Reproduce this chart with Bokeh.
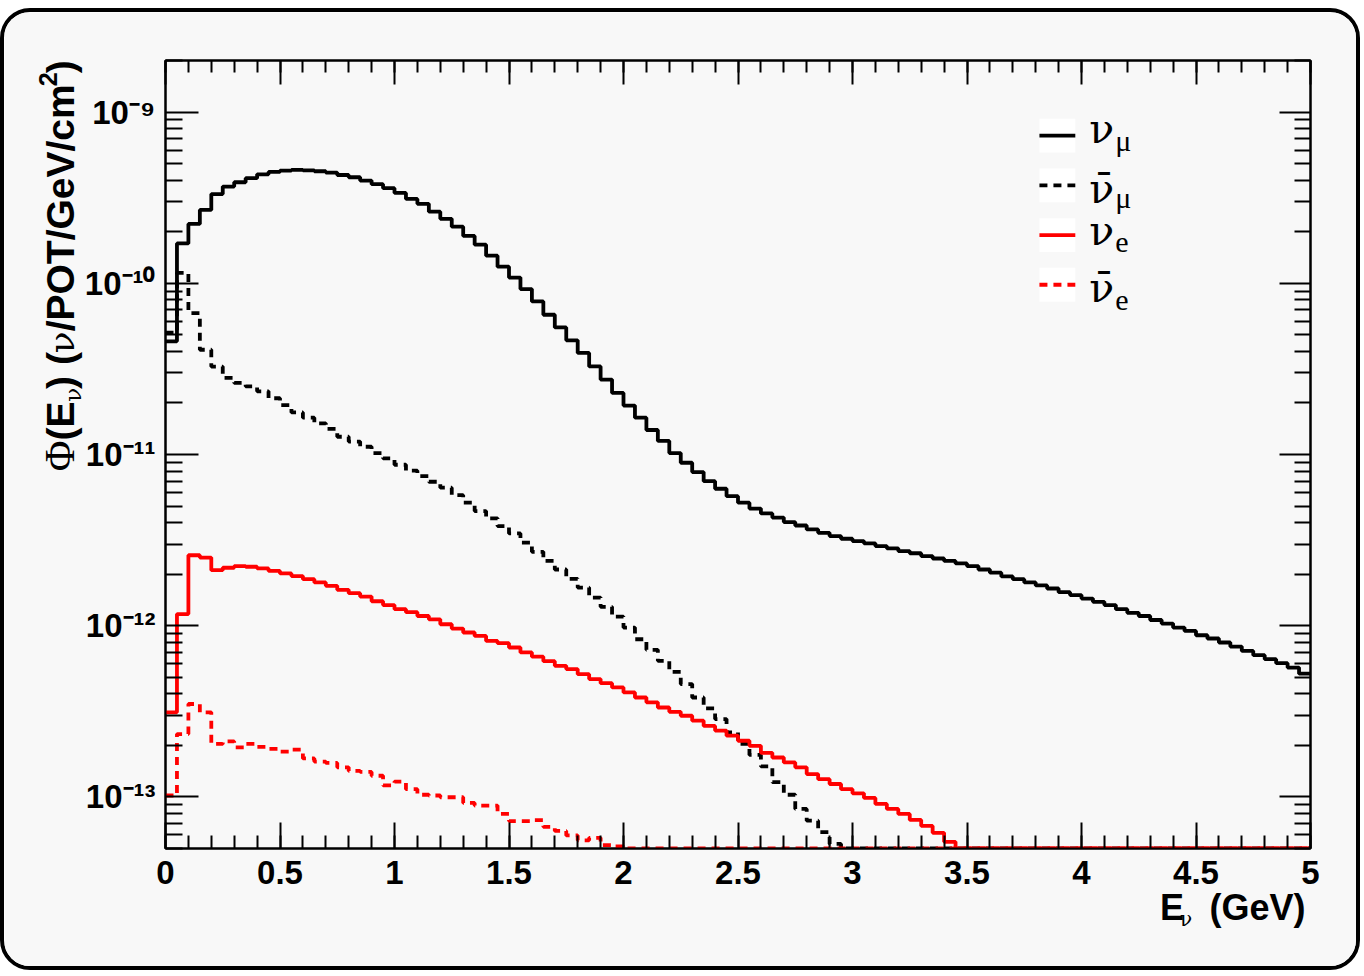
import numpy as np
from bokeh.plotting import figure
from bokeh.layouts import column, row
from bokeh.models import (LinearAxis, LogAxis, FixedTicker, SingleIntervalTicker,
                          NumeralTickFormatter, Label, Range1d, CustomLabelingPolicy)
from bokeh.embed import file_html
from bokeh.resources import INLINE

# ---------------- data (flux per 0.05 GeV bin, 0-5 GeV) ----------------
E_MIN, E_MAX, N_BINS = 0.0, 5.0, 100
bin_edges = np.linspace(E_MIN, E_MAX, N_BINS + 1)

numu = [4.58e-11, 1.71e-10, 2.22e-10, 2.68e-10, 3.32e-10, 3.67e-10, 3.89e-10, 4.11e-10, 4.33e-10, 4.47e-10,
        4.55e-10, 4.59e-10, 4.57e-10, 4.51e-10, 4.43e-10, 4.29e-10, 4.16e-10, 3.98e-10, 3.79e-10, 3.59e-10,
        3.37e-10, 3.11e-10, 2.91e-10, 2.62e-10, 2.38e-10, 2.14e-10, 1.89e-10, 1.68e-10, 1.45e-10, 1.25e-10,
        1.08e-10, 9.25e-11, 7.83e-11, 6.55e-11, 5.52e-11, 4.64e-11, 3.92e-11, 3.27e-11, 2.74e-11, 2.29e-11,
        1.93e-11, 1.64e-11, 1.39e-11, 1.20e-11, 1.02e-11, 8.95e-12, 7.89e-12, 6.99e-12, 6.31e-12, 5.71e-12,
        5.23e-12, 4.83e-12, 4.53e-12, 4.28e-12, 4.03e-12, 3.85e-12, 3.65e-12, 3.49e-12, 3.34e-12, 3.22e-12,
        3.12e-12, 3.03e-12, 2.92e-12, 2.83e-12, 2.73e-12, 2.65e-12, 2.55e-12, 2.47e-12, 2.39e-12, 2.31e-12,
        2.23e-12, 2.13e-12, 2.04e-12, 1.94e-12, 1.87e-12, 1.79e-12, 1.72e-12, 1.65e-12, 1.57e-12, 1.51e-12,
        1.44e-12, 1.38e-12, 1.32e-12, 1.25e-12, 1.19e-12, 1.14e-12, 1.08e-12, 1.03e-12, 9.76e-13, 9.33e-13,
        8.80e-13, 8.42e-13, 7.98e-13, 7.56e-13, 7.13e-13, 6.73e-13, 6.38e-13, 6.04e-13, 5.70e-13, 5.25e-13]

numubar = [5.14e-11, 1.15e-10, 6.70e-11, 4.09e-11, 3.26e-11, 2.80e-11, 2.62e-11, 2.50e-11, 2.34e-11, 2.13e-11,
           1.94e-11, 1.76e-11, 1.64e-11, 1.52e-11, 1.41e-11, 1.27e-11, 1.19e-11, 1.11e-11, 1.02e-11, 9.50e-12,
           8.71e-12, 8.05e-12, 7.47e-12, 6.93e-12, 6.40e-12, 5.79e-12, 5.23e-12, 4.67e-12, 4.24e-12, 3.82e-12,
           3.46e-12, 3.06e-12, 2.70e-12, 2.39e-12, 2.13e-12, 1.88e-12, 1.67e-12, 1.46e-12, 1.29e-12, 1.13e-12,
           9.76e-13, 8.34e-13, 7.23e-13, 6.24e-13, 5.38e-13, 4.56e-13, 3.81e-13, 3.29e-13, 2.85e-13, 2.38e-13,
           2.04e-13, 1.76e-13, 1.51e-13, 1.22e-13, 1.03e-13, 8.51e-14, 7.27e-14, 6.23e-14, 5.32e-14, 0.0] + [0.0] * 40

nue = [3.12e-13, 1.17e-12, 2.58e-12, 2.50e-12, 2.11e-12, 2.18e-12, 2.23e-12, 2.21e-12, 2.16e-12, 2.09e-12,
       2.02e-12, 1.95e-12, 1.87e-12, 1.79e-12, 1.71e-12, 1.62e-12, 1.55e-12, 1.48e-12, 1.39e-12, 1.32e-12,
       1.25e-12, 1.20e-12, 1.14e-12, 1.09e-12, 1.02e-12, 9.63e-13, 9.13e-13, 8.72e-13, 8.15e-13, 7.91e-13,
       7.46e-13, 6.98e-13, 6.60e-13, 6.21e-13, 5.83e-13, 5.58e-13, 5.21e-13, 4.88e-13, 4.62e-13, 4.36e-13,
       4.08e-13, 3.81e-13, 3.57e-13, 3.33e-13, 3.14e-13, 2.98e-13, 2.79e-13, 2.60e-13, 2.44e-13, 2.28e-13,
       2.13e-13, 1.99e-13, 1.81e-13, 1.70e-13, 1.59e-13, 1.49e-13, 1.36e-13, 1.27e-13, 1.19e-13, 1.11e-13,
       1.05e-13, 9.87e-14, 9.10e-14, 8.51e-14, 7.96e-14, 7.34e-14, 6.77e-14, 6.17e-14, 5.47e-14, 0.0] + [0.0] * 30

nuebar = [1.02e-13, 2.33e-13, 3.49e-13, 3.12e-13, 2.04e-13, 2.11e-13, 1.95e-13, 2.04e-13, 1.96e-13, 1.91e-13,
          1.84e-13, 1.89e-13, 1.68e-13, 1.61e-13, 1.58e-13, 1.49e-13, 1.42e-13, 1.40e-13, 1.33e-13, 1.17e-13,
          1.23e-13, 1.11e-13, 1.03e-13, 1.02e-13, 9.96e-14, 9.96e-14, 9.23e-14, 8.90e-14, 8.90e-14, 7.96e-14,
          7.23e-14, 7.23e-14, 7.32e-14, 6.69e-14, 6.33e-14, 5.96e-14, 5.58e-14, 5.77e-14, 5.23e-14, 5.14e-14] + [0.0] * 60

series_names = ["ν", "ν̄", "ν", "ν̄"]
series_subs = ["μ", "μ", "e", "e"]
series_values = [numu, numubar, nue, nuebar]
series_colors = ["#000000", "#000000", "#ff0000", "#ff0000"]
series_dash = ["solid", "8 6", "solid", "8 6"]

YMIN, YMAX = 5e-14, 2e-9
y_major = [1e-13, 1e-12, 1e-11, 1e-10, 1e-9]
y_major_labels = ["10⁻¹³", "10⁻¹²", "10⁻¹¹", "10⁻¹⁰", "10⁻⁹"]

BG = "#f8f8f8"
SANS = "Liberation Sans"
SERIF = "Liberation Serif"
GREEK = "DejaVu Serif"

PAGE_W, PAGE_H = 1364, 976
MB_L, MB_R, MB_T, MB_B = 161, 54, 48, 126

# ---------------- main plot ----------------
p = figure(width=1360, height=962, x_range=Range1d(E_MIN, E_MAX), y_range=Range1d(YMIN, YMAX),
           y_axis_type="log", output_backend="svg", toolbar_location=None,
           min_border_left=MB_L, min_border_right=MB_R, min_border_top=MB_T, min_border_bottom=MB_B)
p.background_fill_color = BG
p.border_fill_color = BG
p.outline_line_color = "black"
p.outline_line_width = 2
p.xgrid.visible = False
p.ygrid.visible = False
p.styles = {"border": "4px solid black", "border-radius": "30px", "overflow": "hidden",
            "margin-top": "8px"}

y_minor = [m * 10.0 ** e for e in range(-14, -8) for m in range(2, 10)]
yticker = FixedTicker(ticks=y_major, minor_ticks=y_minor)
xticker = SingleIntervalTicker(interval=0.5, num_minor_ticks=5)

def style_axis(ax, major_in, minor_in):
    ax.axis_line_width = 2
    ax.axis_line_color = "black"
    ax.major_tick_line_width = 2
    ax.minor_tick_line_width = 2
    ax.major_tick_line_color = "black"
    ax.minor_tick_line_color = "black"
    ax.major_tick_in = major_in
    ax.major_tick_out = 0
    ax.minor_tick_in = minor_in
    ax.minor_tick_out = 0

xb = p.xaxis[0]
xb.ticker = xticker
xb.formatter = NumeralTickFormatter(format="0.[0]")
style_axis(xb, 26, 13)
xb.major_label_text_font = SANS
xb.major_label_text_font_style = "bold"
xb.major_label_text_font_size = "33px"
xb.major_label_text_color = "black"
xb.major_label_standoff = 12

yl = p.yaxis[0]
yl.ticker = yticker
yl.major_label_overrides = dict(zip(y_major, y_major_labels))
style_axis(yl, 33, 17)
yl.major_label_text_font = SANS
yl.major_label_text_font_style = "bold"
yl.major_label_text_font_size = "33px"
yl.major_label_text_color = "black"
yl.major_label_standoff = 10

xt = LinearAxis(ticker=xticker, major_label_text_font_size="6px", major_label_standoff=0,
                major_label_policy=CustomLabelingPolicy(code="return new Set()"))
style_axis(xt, 24, 12)
p.add_layout(xt, "above")
yr = LogAxis(ticker=yticker, major_label_text_font_size="6px", major_label_standoff=0,
             major_label_policy=CustomLabelingPolicy(code="return new Set()"))
style_axis(yr, 31, 16)
p.add_layout(yr, "right")

step_x = np.repeat(bin_edges, 2)[1:-1]
for vals, col, dash in zip(series_values, series_colors, series_dash):
    v = np.maximum(np.asarray(vals, dtype=float), YMIN)
    p.line(step_x, np.repeat(v, 2), line_color=col, line_width=3.8, line_dash=dash)

# ---------------- transparent overlay layers in page-pixel coordinates ----------------
def overlay(x0, x1, y0, y1, bl, br, bt, bb):
    o = figure(width=PAGE_W, height=PAGE_H, x_range=Range1d(x0, x1), y_range=Range1d(y1, y0),
               output_backend="svg", toolbar_location=None, x_axis_location=None,
               y_axis_location=None, min_border_left=bl, min_border_right=br,
               min_border_top=bt, min_border_bottom=bb)
    o.background_fill_alpha = 0
    o.border_fill_alpha = 0
    o.outline_line_color = None
    o.xgrid.visible = False
    o.ygrid.visible = False
    o.styles = {"position": "absolute", "left": "0px", "top": "0px", "pointer-events": "none"}
    return o

# ov1: frame spans x 161..1310 (same as main plot), full height
ov1 = overlay(MB_L, PAGE_W - MB_R, 0, PAGE_H, MB_L, MB_R, 0, 0)
# ov2: frame spans full width, y 48..850
ov2 = overlay(0, PAGE_W, MB_T, PAGE_H - MB_B, 0, 0, MB_T, MB_B)

def text(fig, x, y, s, font=SANS, size=36, style="normal", align="left", rotated=False):
    shift = 0.25 * size   # alphabetic-baseline correction
    if rotated:
        fig.add_layout(Label(x=x - shift, y=y, text=s, text_font=font, text_font_size=f"{size}px",
                             text_font_style=style, text_align=align, text_baseline="alphabetic",
                             angle=np.pi / 2, text_color="black"))
    else:
        fig.add_layout(Label(x=x, y=y - shift, text=s, text_font=font, text_font_size=f"{size}px",
                             text_font_style=style, text_align=align, text_baseline="alphabetic",
                             text_color="black"))

# legend
leg_line_y = [136, 186, 236, 286]
leg_name_base = [140, 200, 242, 300]
leg_sub_base = [148, 206, 251, 309]
for name, sub, col, dash, ly, nb, sb in zip(series_names, series_subs, series_colors, series_dash,
                                            leg_line_y, leg_name_base, leg_sub_base):
    ov1.rect(x=1060, y=ly, width=36, height=34, fill_color="white", line_color=None)
    ov1.segment(x0=1042, y0=ly, x1=1078, y1=ly, line_color=col, line_width=3.8, line_dash=dash)
    text(ov1, 1092, nb, name, font=GREEK, size=41)
    text(ov1, 1118, sb, sub, font=SERIF, size=30)

# x title  E_ν (GeV)
text(ov1, 1163, 922, "E", size=36, style="bold")
text(ov1, 1183, 929, "ν", font=GREEK, size=20)
text(ov1, 1309, 922, "(GeV)", size=36, style="bold", align="right")

# y title  Φ(E_ν) (ν/POT/GeV/cm²), rotated
ytitle_pieces = [
    ("Φ", SERIF, 42, "normal", 474, 70),
    ("(E", SANS, 39, "bold", 443, 70),
    ("ν", GREEK, 23, "normal", 404, 78),
    (") (", SANS, 39, "bold", 391, 70),
    ("ν", GREEK, 36, "normal", 355, 70),
    ("/POT/GeV/cm", SANS, 39, "bold", 333, 70),
    ("2", SANS, 25, "bold", 86, 54),
    (")", SANS, 39, "bold", 73, 70),
]
for txt, fnt, size, fstyle, ystart, xbase in ytitle_pieces:
    text(ov2, xbase, ystart, txt, font=fnt, size=size, style=fstyle, rotated=True)

root = column(row(p, ov2), ov1)
open("out.html", "w").write(file_html(root, INLINE))
